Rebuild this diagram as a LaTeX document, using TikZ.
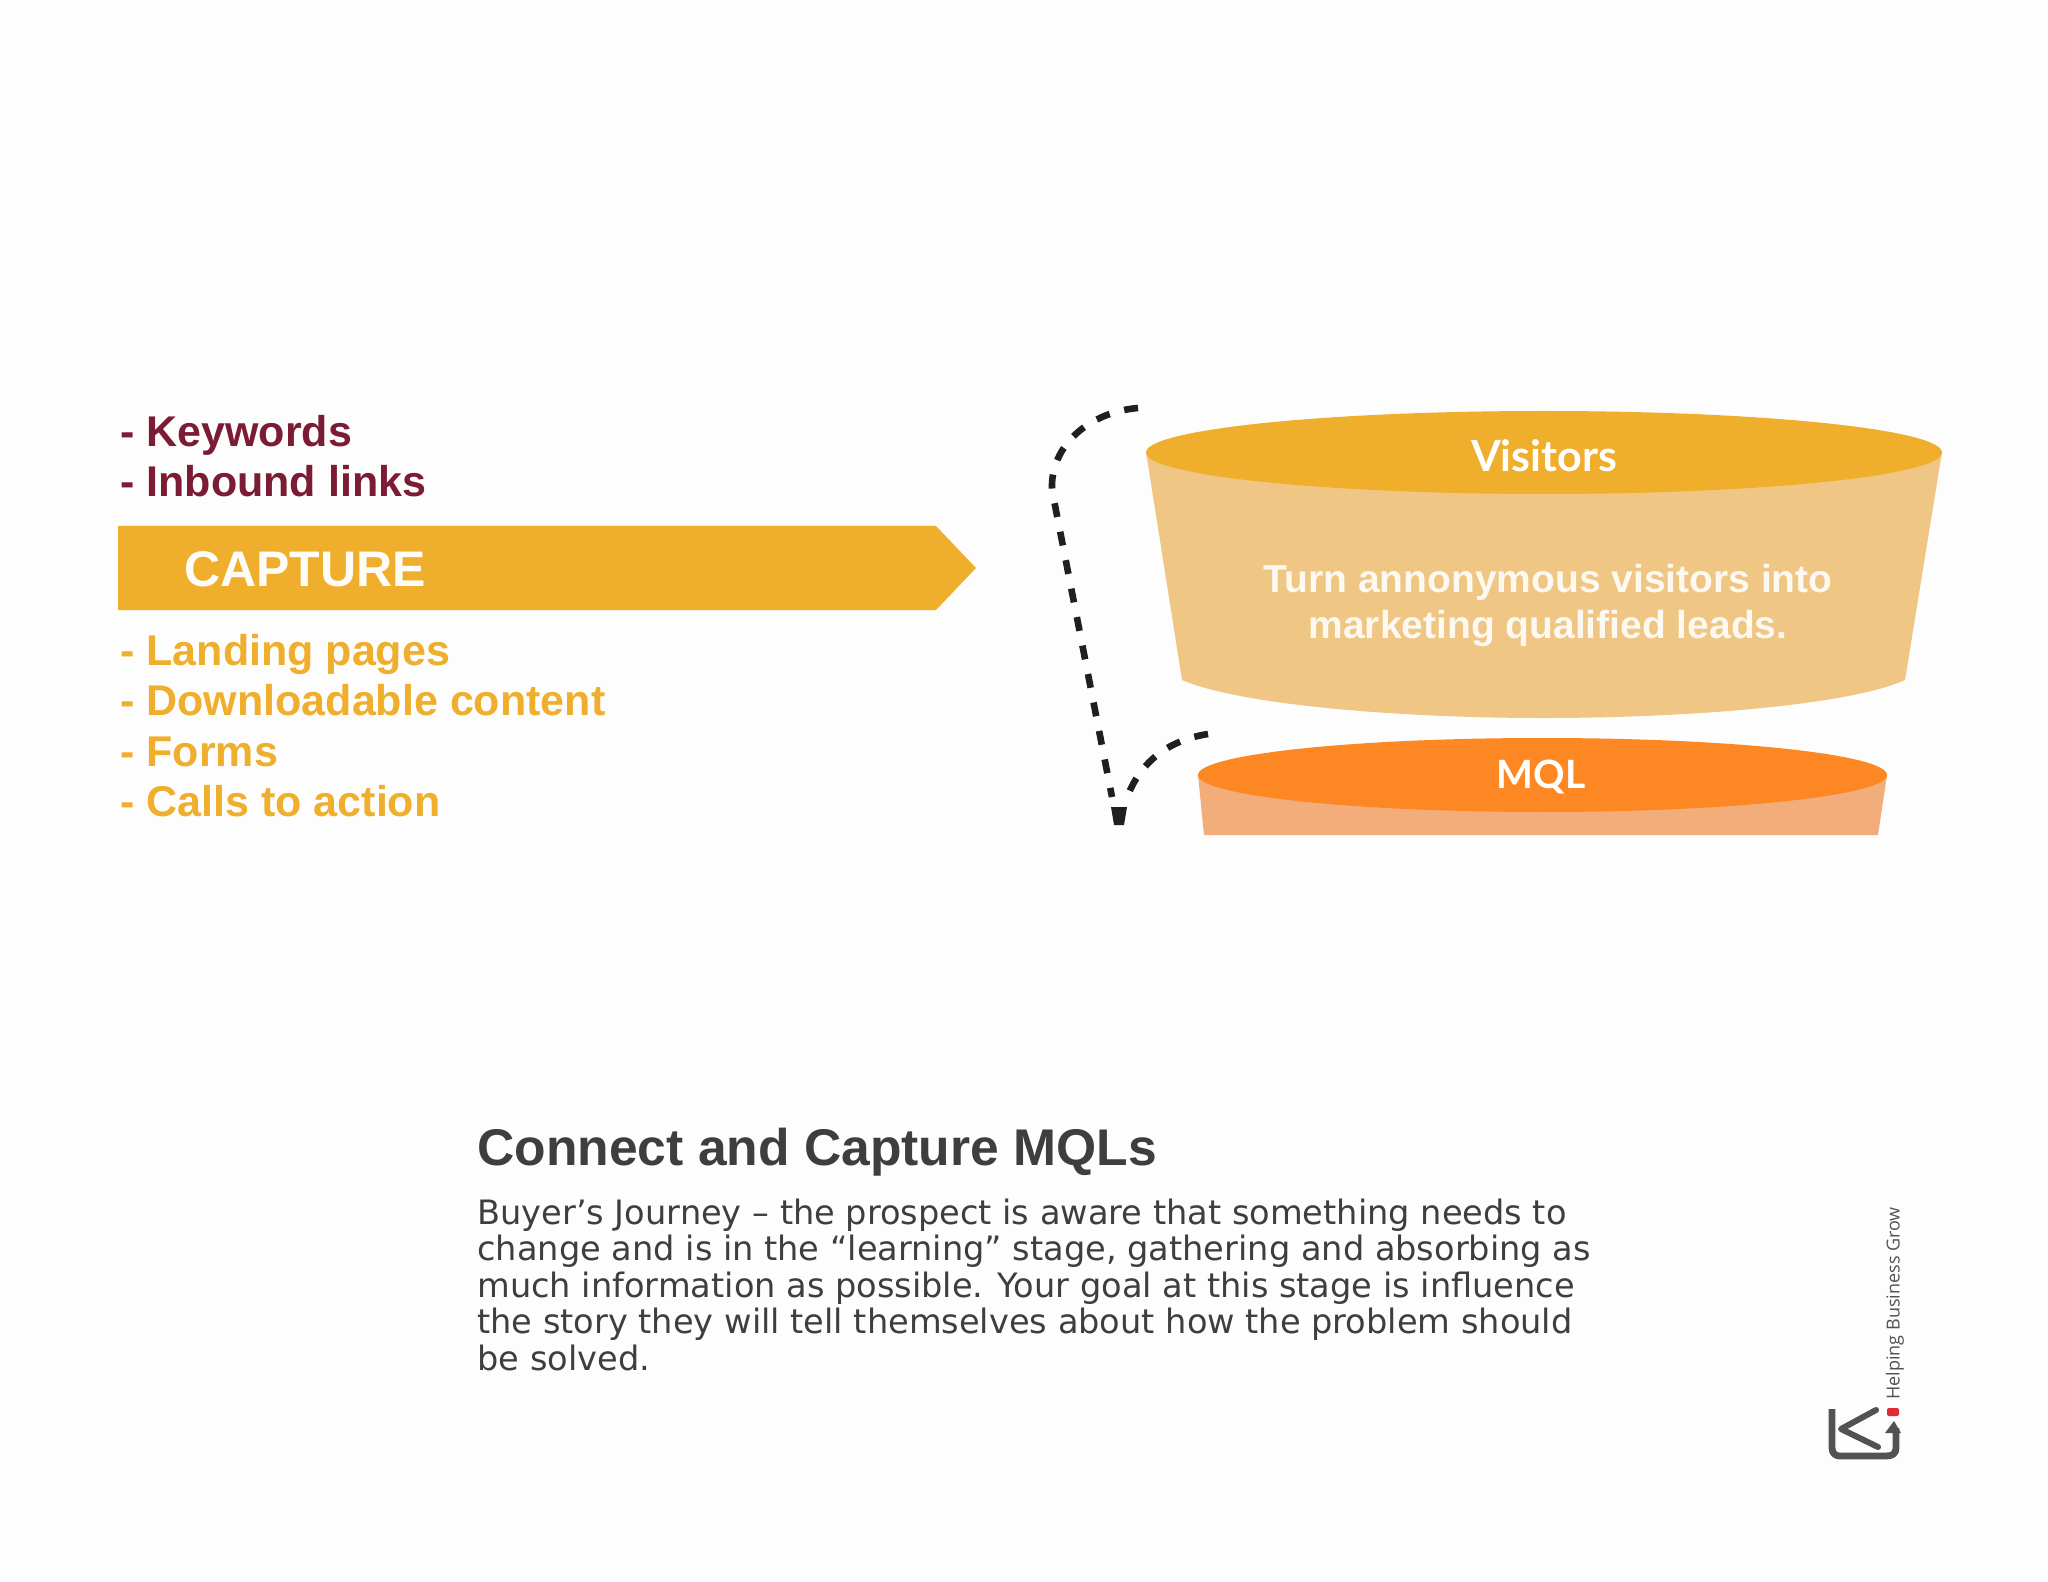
\documentclass[tikz,border=0pt]{standalone}
\usepackage{fontspec}
\setmainfont{Liberation Sans}
\newfontfamily\bodyfont{DejaVu Sans}
\newfontfamily\lidfont{Lato}
\newfontfamily\logofont{Open Sans}
\usetikzlibrary{shapes.geometric}
\definecolor{gold}{HTML}{EFAE2C}
\definecolor{goldpale}{HTML}{EFC683}
\definecolor{orangedeep}{HTML}{FD8823}
\definecolor{orangepale}{HTML}{F3AD7B}
\definecolor{maroon}{HTML}{7B1B34}
\definecolor{ink}{HTML}{3E3D40}
\definecolor{logogray}{HTML}{525255}
\definecolor{logored}{HTML}{E02B36}
\definecolor{paper}{HTML}{FEFDFE}
\tikzset{
  x=0.5pt,y=-0.5pt,
  listitem/.style={anchor=base west,inner sep=0pt,font=\fontsize{21.5}{24}\selectfont\bfseries},
  lid/.style={shape=ellipse,inner sep=0pt},
  dashline/.style={line width=3.3pt,black!88,dash pattern=on 7pt off 7.5pt},
  logoline/.style={draw=logogray,line width=3pt,line cap=round,line join=round},
}
\begin{document}
\begin{tikzpicture}
\useasboundingbox (0,0) rectangle (2048,1582);
\fill[paper] (0,0) rectangle (2048,1582);
% left list
\node[listitem,text=maroon] (kw) at (120,447) {- Keywords};
\node[listitem,text=maroon] (il) at (120,497) {- Inbound links};
\fill[gold] (118,526) -- (936,526) -- (976,568) -- (936,610) -- (118,610) -- cycle;
\node[anchor=base west,inner sep=0pt,text=white!96!gold,font=\fontsize{25}{28}\selectfont\bfseries] (cap) at (184,587) {CAPTURE};
\node[listitem,text=gold] (lp) at (120,665) {- Landing pages};
\node[listitem,text=gold] (dc) at (120,715) {- Downloadable content};
\node[listitem,text=gold] (fo) at (120,766) {- Forms};
\node[listitem,text=gold] (ca) at (120,816) {- Calls to action};
% visitors funnel
\fill[goldpale] (1146,452) -- (1182,680) .. controls (1240,705) and (1400,718) .. (1543,718) .. controls (1690,718) and (1850,705) .. (1905,680) -- (1942,452) -- cycle;
\node[lid,fill=gold,minimum width=398pt,minimum height=41.5pt] (vis) at (1544,452.5) {};
\node[inner sep=0pt,text=white,font=\lidfont\fontsize{21.5}{24}\selectfont\bfseries] (vislabel) at (1544,456) {Visitors};
\node[inner sep=0pt,align=center,text=white!88!goldpale,font=\fontsize{19.5}{23}\selectfont\bfseries] (turn) at (1548,606) {Turn annonymous visitors into\\marketing qualified leads.};
% MQL funnel
\fill[orangepale] (1198,775) -- (1204,835) -- (1878,835) -- (1887,775) -- cycle;
\node[lid,fill=orangedeep,minimum width=344.5pt,minimum height=37pt] (mql) at (1542.5,775) {};
\node[inner sep=0pt,text=white,font=\lidfont\fontsize{19.5}{23}\selectfont\bfseries] (mqllabel) at (1541,777) {MQL};
% dashed connector
\coordinate (dstart) at (1138,408);
\coordinate (dbend) at (1052,490);
\coordinate (dend) at (1112,797);
\coordinate (dback) at (1208,734);
\coordinate (dbackend) at (1128,795);
\draw[dashline] (dstart) .. controls (1090,412) and (1050,445) .. (dbend) -- (dend);
\draw[dashline] (dback) .. controls (1170,740) and (1142,760) .. (dbackend);
\fill[black!88] (1111,807) -- (1127,807) -- (1124,825) -- (1114,825) -- cycle;
% caption
\node[anchor=base west,inner sep=0pt,text=ink,font=\fontsize{25.8}{30}\selectfont\bfseries] (title) at (477,1165) {Connect and Capture MQLs};
\node[anchor=north west,inner sep=0pt,align=left,text=ink,font=\bodyfont\fontsize{16.8}{18.2}\selectfont] (body) at (477,1198.5) {Buyer’s Journey – the prospect is aware that something needs to\\change and is in the “learning” stage, gathering and absorbing as\\much information as possible. Your goal at this stage is influence\\the story they will tell themselves about how the problem should\\be solved.};
% logo
\draw[logoline,line width=3.4pt,line cap=butt] (1832,1409) -- (1832,1448) .. controls (1832,1454) and (1836,1456) .. (1840,1456) -- (1886,1456) .. controls (1892,1456) and (1896,1454) .. (1896,1448) -- (1896,1428);
\fill[logogray] (1894,1421) -- (1885,1433) -- (1901,1433) -- cycle;
\draw[logoline] (1876,1410) -- (1841,1429) -- (1878,1447);
\fill[logored,rounded corners=1pt] (1887,1408) rectangle (1899,1416);
\node[rotate=90,anchor=west,inner sep=0pt,text=logogray,font=\logofont\fontsize{9}{10}\selectfont] (tag) at (1895,1400) {Helping Business Grow};
\end{tikzpicture}
\end{document}
